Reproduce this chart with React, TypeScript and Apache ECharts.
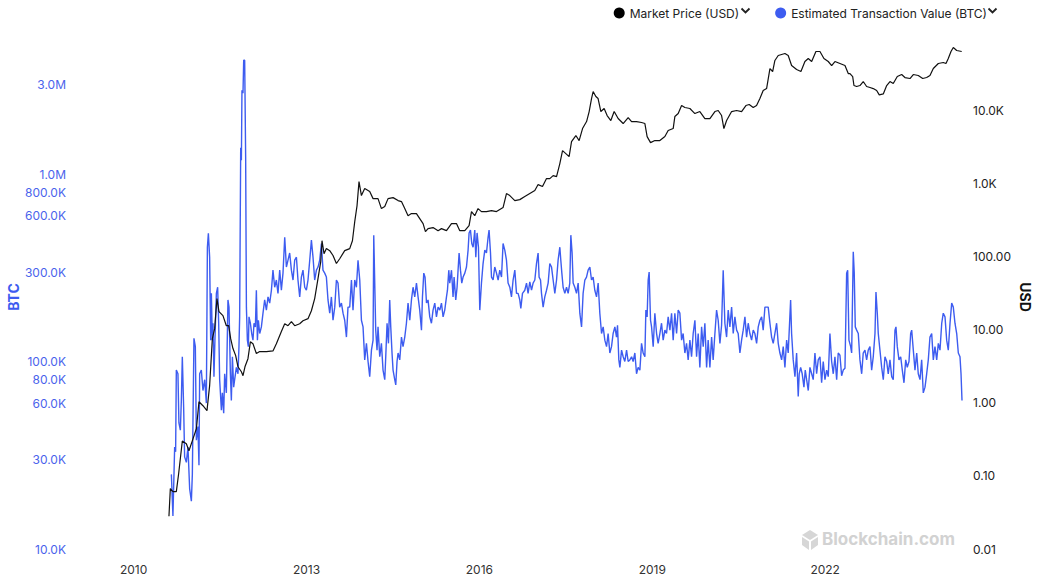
import React, { useEffect, useRef } from "react";
import * as echarts from "echarts";

// Market price (USD), decimal years
const priceYears = [
  2010.613, 2010.637, 2010.682, 2010.741, 2010.781, 2010.845, 2010.915, 2010.96, 2011.03, 2011.089,
  2011.134, 2011.203, 2011.273, 2011.319, 2011.366, 2011.406, 2011.446, 2011.481, 2011.55, 2011.609,
  2011.649, 2011.684, 2011.724, 2011.771, 2011.811, 2011.87, 2011.898, 2011.932, 2011.984, 2012.026,
  2012.071, 2012.13, 2012.188, 2012.304, 2012.418, 2012.477, 2012.564, 2012.622, 2012.679, 2012.738,
  2012.795, 2012.882, 2012.939, 2013.026, 2013.085, 2013.142, 2013.2, 2013.247, 2013.269, 2013.304,
  2013.345, 2013.403, 2013.46, 2013.519, 2013.576, 2013.663, 2013.75, 2013.797, 2013.837, 2013.877,
  2013.911, 2013.953, 2014.01, 2014.097, 2014.155, 2014.241, 2014.3, 2014.358, 2014.415, 2014.502,
  2014.589, 2014.648, 2014.705, 2014.762, 2014.821, 2014.908, 2014.965, 2015.023, 2015.064, 2015.109,
  2015.196, 2015.283, 2015.342, 2015.429, 2015.516, 2015.602, 2015.66, 2015.747, 2015.821, 2015.863,
  2015.92, 2015.977, 2016.036, 2016.123, 2016.21, 2016.297, 2016.411, 2016.47, 2016.528, 2016.615,
  2016.701, 2016.788, 2016.875, 2016.962, 2017.019, 2017.095, 2017.165, 2017.222, 2017.28, 2017.339,
  2017.396, 2017.443, 2017.5, 2017.557, 2017.599, 2017.674, 2017.731, 2017.79, 2017.86, 2017.905,
  2017.946, 2017.974, 2018.021, 2018.06, 2018.108, 2018.165, 2018.217, 2018.281, 2018.339, 2018.408,
  2018.495, 2018.582, 2018.641, 2018.727, 2018.814, 2018.872, 2018.911, 2018.97, 2019.045, 2019.132,
  2019.219, 2019.276, 2019.363, 2019.392, 2019.45, 2019.509, 2019.566, 2019.653, 2019.74, 2019.826,
  2019.913, 2020.0, 2020.087, 2020.144, 2020.203, 2020.243, 2020.29, 2020.377, 2020.463, 2020.55,
  2020.625, 2020.682, 2020.752, 2020.81, 2020.868, 2020.925, 2020.984, 2021.042, 2021.089, 2021.128,
  2021.186, 2021.245, 2021.302, 2021.359, 2021.418, 2021.505, 2021.58, 2021.649, 2021.707, 2021.766,
  2021.84, 2021.91, 2021.979, 2022.054, 2022.113, 2022.17, 2022.257, 2022.344, 2022.401, 2022.431,
  2022.478, 2022.5, 2022.547, 2022.604, 2022.661, 2022.72, 2022.778, 2022.835, 2022.894, 2022.939,
  2023.009, 2023.068, 2023.125, 2023.182, 2023.252, 2023.328, 2023.385, 2023.472, 2023.53, 2023.616,
  2023.693, 2023.762, 2023.819, 2023.877, 2023.964, 2024.05, 2024.097, 2024.137, 2024.184, 2024.224,
  2024.283, 2024.37,
];
const priceUsd = [
  0.028, 0.067, 0.061, 0.061, 0.107, 0.3, 0.275, 0.22, 0.32, 0.44,
  1.03, 0.91, 0.78, 1.71, 7.5, 10.3, 26.5, 17.6, 15.5, 11.3,
  11.3, 7.5, 5.5, 4.4, 3.1, 2.65, 2.34, 3.1, 4.0, 6.8,
  6.4, 4.7, 5.0, 5.0, 5.1, 6.4, 9.4, 12.0, 11.3, 12.8,
  11.3, 12.0, 13.2, 14.1, 18.1, 26.5, 50, 85, 164, 109,
  128, 120, 103, 80, 93, 120, 128, 164, 299, 495,
  1055, 679, 846, 770, 617, 617, 451, 480, 617, 637,
  580, 562, 451, 361, 385, 385, 329, 281, 218, 240,
  248, 225, 240, 225, 281, 281, 225, 225, 264, 410,
  361, 451, 410, 410, 423, 410, 465, 723, 679, 580,
  598, 658, 723, 795, 960, 902, 1159, 1159, 1274, 1236,
  1862, 2800, 2548, 2317, 3720, 4496, 3838, 5600, 6980, 9570,
  14400, 17960, 15340, 14400, 9570, 10520, 8440, 7210, 9570, 7680,
  6560, 7920, 6980, 6980, 6770, 6560, 4350, 3600, 3840, 3840,
  4350, 5260, 5600, 8170, 8980, 11560, 10860, 10520, 8980, 9570,
  7680, 7680, 9570, 9890, 8440, 5600, 7210, 9570, 9890, 9570,
  11560, 11940, 10860, 11560, 14400, 18540, 19720, 37060, 33730, 47750,
  55850, 57670, 59450, 55850, 40740, 35900, 33730, 46230, 50810, 46230,
  63340, 63340, 50810, 46230, 40740, 46230, 43430, 40740, 31660, 31660,
  28780, 21710, 21040, 21710, 24620, 21040, 20370, 19720, 18540, 16180,
  16670, 21710, 24620, 23140, 28780, 30690, 27910, 27060, 30690, 29740,
  27060, 27910, 29740, 37060, 43430, 44770, 43430, 50810, 63340, 71800,
  65340, 63340,
];

// Estimated transaction value, thousands of BTC
const txYears = [
  2010.655, 2010.682, 2010.712, 2010.729, 2010.741, 2010.769, 2010.786, 2010.811, 2010.828, 2010.845,
  2010.868, 2010.885, 2010.915, 2010.943, 2010.972, 2011.002, 2011.019, 2011.047, 2011.071, 2011.089,
  2011.116, 2011.134, 2011.146, 2011.175, 2011.203, 2011.233, 2011.262, 2011.28, 2011.297, 2011.319,
  2011.337, 2011.349, 2011.366, 2011.377, 2011.394, 2011.411, 2011.436, 2011.458, 2011.476, 2011.493,
  2011.523, 2011.54, 2011.563, 2011.58, 2011.609, 2011.637, 2011.655, 2011.679, 2011.696, 2011.714,
  2011.736, 2011.753, 2011.783, 2011.811, 2011.828, 2011.84, 2011.858, 2011.87, 2011.88, 2011.898,
  2011.91, 2011.927, 2011.944, 2011.957, 2011.974, 2011.991, 2012.002, 2012.026, 2012.049, 2012.071,
  2012.089, 2012.113, 2012.13, 2012.148, 2012.165, 2012.188, 2012.217, 2012.245, 2012.274, 2012.304,
  2012.332, 2012.361, 2012.391, 2012.418, 2012.448, 2012.477, 2012.505, 2012.535, 2012.564, 2012.592,
  2012.622, 2012.651, 2012.679, 2012.708, 2012.738, 2012.766, 2012.795, 2012.825, 2012.852, 2012.882,
  2012.911, 2012.939, 2012.969, 2012.998, 2013.026, 2013.056, 2013.085, 2013.113, 2013.142, 2013.172,
  2013.2, 2013.229, 2013.259, 2013.286, 2013.316, 2013.345, 2013.373, 2013.403, 2013.432, 2013.46,
  2013.49, 2013.519, 2013.547, 2013.576, 2013.606, 2013.634, 2013.663, 2013.693, 2013.72, 2013.75,
  2013.78, 2013.807, 2013.837, 2013.866, 2013.894, 2013.924, 2013.953, 2013.981, 2014.01, 2014.04,
  2014.068, 2014.097, 2014.127, 2014.155, 2014.167, 2014.201, 2014.224, 2014.241, 2014.271, 2014.3,
  2014.328, 2014.358, 2014.375, 2014.398, 2014.422, 2014.444, 2014.462, 2014.484, 2014.502, 2014.531,
  2014.549, 2014.571, 2014.589, 2014.618, 2014.648, 2014.675, 2014.705, 2014.734, 2014.762, 2014.792,
  2014.821, 2014.849, 2014.878, 2014.908, 2014.936, 2014.965, 2014.995, 2015.012, 2015.035, 2015.057,
  2015.082, 2015.109, 2015.139, 2015.168, 2015.196, 2015.226, 2015.255, 2015.283, 2015.313, 2015.342,
  2015.37, 2015.399, 2015.429, 2015.446, 2015.469, 2015.486, 2015.516, 2015.543, 2015.561, 2015.59,
  2015.613, 2015.63, 2015.648, 2015.672, 2015.694, 2015.717, 2015.747, 2015.776, 2015.804, 2015.821,
  2015.845, 2015.868, 2015.891, 2015.92, 2015.938, 2015.96, 2015.984, 2016.007, 2016.036, 2016.064,
  2016.094, 2016.123, 2016.151, 2016.168, 2016.193, 2016.21, 2016.238, 2016.267, 2016.297, 2016.325,
  2016.354, 2016.384, 2016.411, 2016.441, 2016.47, 2016.498, 2016.528, 2016.557, 2016.585, 2016.615,
  2016.644, 2016.672, 2016.701, 2016.719, 2016.748, 2016.788, 2016.818, 2016.845, 2016.875, 2016.905,
  2016.932, 2016.962, 2016.991, 2017.019, 2017.036, 2017.061, 2017.078, 2017.106, 2017.135, 2017.165,
  2017.193, 2017.222, 2017.252, 2017.28, 2017.309, 2017.339, 2017.366, 2017.396, 2017.413, 2017.431,
  2017.453, 2017.483, 2017.512, 2017.54, 2017.569, 2017.587, 2017.609, 2017.627, 2017.656, 2017.686,
  2017.714, 2017.743, 2017.773, 2017.8, 2017.83, 2017.859, 2017.887, 2017.917, 2017.946, 2017.974,
  2018.003, 2018.033, 2018.061, 2018.09, 2018.12, 2018.148, 2018.177, 2018.207, 2018.234, 2018.264,
  2018.293, 2018.321, 2018.351, 2018.38, 2018.397, 2018.42, 2018.438, 2018.467, 2018.495, 2018.524,
  2018.554, 2018.582, 2018.611, 2018.641, 2018.668, 2018.698, 2018.727, 2018.755, 2018.785, 2018.814,
  2018.842, 2018.872, 2018.889, 2018.911, 2018.929, 2018.946, 2018.97, 2018.988, 2019.016, 2019.045,
  2019.075, 2019.102, 2019.132, 2019.161, 2019.189, 2019.219, 2019.248, 2019.276, 2019.306, 2019.335,
  2019.363, 2019.392, 2019.422, 2019.45, 2019.479, 2019.509, 2019.536, 2019.566, 2019.595, 2019.623,
  2019.653, 2019.682, 2019.71, 2019.74, 2019.769, 2019.797, 2019.826, 2019.856, 2019.884, 2019.913,
  2019.943, 2019.97, 2020.0, 2020.03, 2020.057, 2020.087, 2020.116, 2020.144, 2020.174, 2020.203,
  2020.231, 2020.26, 2020.29, 2020.318, 2020.347, 2020.377, 2020.405, 2020.434, 2020.464, 2020.491,
  2020.521, 2020.55, 2020.578, 2020.608, 2020.637, 2020.665, 2020.694, 2020.724, 2020.752, 2020.781,
  2020.811, 2020.839, 2020.868, 2020.898, 2020.925, 2020.955, 2020.984, 2021.012, 2021.042, 2021.071,
  2021.099, 2021.128, 2021.158, 2021.186, 2021.215, 2021.245, 2021.273, 2021.302, 2021.332, 2021.359,
  2021.401, 2021.418, 2021.446, 2021.476, 2021.505, 2021.533, 2021.55, 2021.575, 2021.602, 2021.632,
  2021.655, 2021.679, 2021.707, 2021.736, 2021.766, 2021.793, 2021.823, 2021.852, 2021.88, 2021.91,
  2021.939, 2021.967, 2021.997, 2022.026, 2022.054, 2022.083, 2022.113, 2022.141, 2022.17, 2022.2,
  2022.227, 2022.257, 2022.286, 2022.314, 2022.344, 2022.373, 2022.391, 2022.413, 2022.443, 2022.46,
  2022.488, 2022.505, 2022.523, 2022.547, 2022.575, 2022.604, 2022.634, 2022.661, 2022.691, 2022.72,
  2022.748, 2022.778, 2022.807, 2022.835, 2022.865, 2022.882, 2022.905, 2022.922, 2022.951, 2022.981,
  2023.009, 2023.038, 2023.068, 2023.095, 2023.125, 2023.155, 2023.182, 2023.212, 2023.229, 2023.252,
  2023.281, 2023.311, 2023.339, 2023.368, 2023.398, 2023.425, 2023.455, 2023.484, 2023.502, 2023.53,
  2023.559, 2023.589, 2023.616, 2023.646, 2023.675, 2023.703, 2023.733, 2023.762, 2023.79, 2023.819,
  2023.849, 2023.877, 2023.906, 2023.936, 2023.964, 2023.993, 2024.023, 2024.05, 2024.08, 2024.109,
  2024.137, 2024.167, 2024.196, 2024.224, 2024.253, 2024.283, 2024.311, 2024.34, 2024.358, 2024.375,
];
const txValueK = [
  25, 15, 35, 33, 90, 86, 47, 43, 62, 106,
  57, 31, 29, 35, 21, 18, 25, 133, 120, 38,
  45, 28, 86, 90, 70, 80, 60, 407, 483, 360,
  130, 231, 130, 160, 83, 130, 231, 249, 160, 80,
  55, 68, 53, 86, 68, 213, 195, 86, 62, 106,
  73, 80, 93, 86, 120, 173, 1381, 1185, 2798, 2700,
  4044, 4044, 1234, 195, 130, 120, 173, 160, 141, 130,
  160, 153, 240, 130, 166, 141, 153, 181, 213, 188,
  221, 205, 240, 307, 249, 272, 231, 307, 240, 296,
  460, 319, 347, 379, 307, 272, 347, 360, 272, 221,
  282, 307, 249, 240, 272, 347, 444, 360, 272, 307,
  319, 347, 426, 307, 296, 282, 213, 181, 221, 166,
  195, 272, 262, 195, 205, 181, 166, 135, 195, 195,
  272, 188, 272, 249, 347, 272, 166, 153, 102, 125,
  100, 83, 115, 130, 472, 147, 115, 153, 106, 125,
  90, 80, 106, 160, 125, 213, 153, 111, 90, 80,
  75, 100, 111, 102, 135, 120, 135, 160, 205, 166,
  213, 249, 221, 262, 221, 188, 147, 221, 296, 282,
  205, 213, 173, 160, 188, 205, 173, 195, 188, 205,
  173, 188, 221, 240, 307, 262, 307, 221, 282, 213,
  249, 307, 379, 307, 262, 282, 296, 319, 393, 485,
  502, 426, 407, 502, 360, 485, 407, 188, 262, 333,
  393, 379, 460, 502, 379, 282, 272, 319, 296, 272,
  307, 282, 426, 393, 347, 262, 249, 221, 272, 307,
  231, 231, 213, 192, 231, 240, 262, 231, 266, 240,
  262, 272, 333, 379, 282, 272, 231, 195, 221, 240,
  262, 333, 319, 272, 231, 272, 347, 407, 347, 296,
  249, 231, 249, 231, 262, 472, 379, 262, 249, 231,
  262, 181, 153, 231, 272, 282, 307, 319, 272, 282,
  240, 221, 262, 181, 141, 153, 130, 120, 141, 111,
  120, 141, 153, 135, 156, 102, 93, 115, 106, 100,
  115, 100, 102, 106, 100, 111, 86, 93, 90, 125,
  111, 106, 188, 173, 272, 300, 166, 153, 120, 181,
  141, 125, 141, 160, 130, 147, 141, 173, 147, 181,
  130, 181, 141, 188, 181, 130, 141, 111, 125, 102,
  130, 106, 141, 166, 106, 141, 93, 153, 120, 160,
  93, 130, 93, 135, 102, 141, 188, 166, 125, 156,
  307, 160, 135, 188, 153, 195, 141, 173, 147, 141,
  111, 130, 147, 173, 135, 160, 141, 130, 147, 141,
  125, 153, 166, 173, 147, 195, 195, 195, 160, 135,
  125, 141, 160, 125, 111, 102, 120, 93, 130, 111,
  213, 141, 102, 83, 111, 65, 86, 93, 86, 73,
  90, 80, 70, 93, 86, 80, 111, 86, 102, 106,
  77, 100, 80, 90, 83, 141, 100, 86, 106, 80,
  111, 108, 84, 90, 92, 296, 307, 130, 120, 111,
  385, 296, 153, 147, 141, 102, 86, 111, 115, 102,
  115, 120, 90, 106, 141, 235, 181, 141, 115, 93,
  80, 106, 100, 86, 102, 83, 80, 147, 153, 120,
  102, 106, 90, 77, 102, 93, 100, 141, 147, 115,
  90, 111, 86, 80, 102, 68, 73, 86, 102, 135,
  141, 102, 120, 102, 125, 115, 160, 181, 173, 130,
  115, 160, 205, 195, 160, 141, 111, 106, 86, 62,
];

const yearTicks = [2010, 2013, 2016, 2019, 2022];
const btcTicks = [10000, 30000, 60000, 80000, 100000, 300000, 600000, 800000, 1000000, 3000000];
const usdTicks = [0.01, 0.1, 1, 10, 100, 1000, 10000];

const BLUE = "#3d5cf0";
const FONT = "Inter, 'Noto Sans', sans-serif";

function fmtBtc(v: number) {
  if (v >= 1e6) return (v / 1e6).toFixed(1) + "M";
  return (v / 1e3).toFixed(1) + "K";
}
function fmtUsd(v: number) {
  if (v >= 1e3) return (v / 1e3).toFixed(1) + "K";
  return v.toFixed(2);
}

export default function App() {
  const ref = useRef<HTMLDivElement>(null);
  useEffect(() => {
    if (!ref.current) return;
    const chart = echarts.init(ref.current, undefined, { renderer: "svg" });
    const priceData = priceYears.map((y, i) => [y, priceUsd[i]]);
    const txData = txYears.map((y, i) => [y, txValueK[i] * 1000]);
    const chevronStyle = { stroke: "#222", lineWidth: 1.8, fill: "none", lineJoin: "miter" };
    chart.setOption({
      animation: false,
      backgroundColor: "#ffffff",
      textStyle: { fontFamily: FONT },
      grid: { left: 76, right: 73, top: 37, bottom: 31, containLabel: false, outerBoundsMode: "none" },
      legend: {
        data: ["Market Price (USD)", "Estimated Transaction Value (BTC)"],
        top: 1,
        right: 39,
        padding: 0,
        icon: "circle",
        itemWidth: 11,
        itemHeight: 11,
        itemGap: 24,
        formatter: (name: string) => name + "{c| }",
        textStyle: {
          fontFamily: FONT,
          fontSize: 12,
          color: "#222",
          lineHeight: 24,
          rich: {
            c: { width: 12, fontSize: 12, lineHeight: 24 },
          },
        },
      },
      xAxis: {
        type: "value",
        min: 2009,
        max: 2024.427,
        axisLine: { show: false },
        axisTick: { show: false },
        splitLine: { show: false },
        axisLabel: {
          customValues: yearTicks,
          formatter: (v: number) => String(Math.round(v)),
          color: "#333",
          fontSize: 12,
          margin: 14,
          fontFamily: FONT,
        },
      },
      yAxis: [
        {
          type: "log",
          logBase: 10,
          position: "left",
          min: 10000,
          max: 5380000,
          axisLine: { show: false },
          axisTick: { show: false },
          splitLine: { show: false },
          axisLabel: {
            customValues: btcTicks,
            formatter: (v: number) => fmtBtc(v),
            color: "#4a63ec",
            fontSize: 12,
            margin: 10,
            fontFamily: FONT,
          },
        },
        {
          type: "log",
          logBase: 10,
          position: "right",
          min: 0.01,
          max: 100000,
          axisLine: { show: false },
          axisTick: { show: false },
          splitLine: { show: false },
          axisLabel: {
            customValues: usdTicks,
            formatter: (v: number) => fmtUsd(v),
            color: "#222",
            fontSize: 12,
            margin: 8,
            fontFamily: FONT,
          },
        },
      ],
      series: [
        {
          name: "Estimated Transaction Value (BTC)",
          type: "line",
          yAxisIndex: 0,
          data: txData,
          showSymbol: false,
          symbol: "none",
          color: BLUE,
          lineStyle: { color: BLUE, width: 1.4 },
          z: 2,
        },
        {
          name: "Market Price (USD)",
          type: "line",
          yAxisIndex: 1,
          data: priceData,
          showSymbol: false,
          symbol: "none",
          color: "#000000",
          lineStyle: { color: "#111111", width: 1.2 },
          z: 3,
        },
      ],
      graphic: [
        {
          type: "text",
          x: 13,
          y: 297,
          rotation: Math.PI / 2,
          style: {
            text: "BTC",
            fill: BLUE,
            fontWeight: "bold",
            fontSize: 14,
            fontFamily: FONT,
            textAlign: "center",
            textVerticalAlign: "middle",
          },
        },
        {
          type: "text",
          x: 1025,
          y: 297,
          rotation: -Math.PI / 2,
          style: {
            text: "USD",
            fill: "#111",
            fontWeight: "bold",
            fontSize: 14,
            fontFamily: FONT,
            textAlign: "center",
            textVerticalAlign: "middle",
          },
        },
        {
          type: "polyline",
          shape: { points: [[741.5, 8.5], [745.5, 12.5], [749.5, 8.5]] },
          style: chevronStyle,
          silent: true,
        },
        {
          type: "polyline",
          shape: { points: [[988.5, 8.5], [992.5, 12.5], [996.5, 8.5]] },
          style: chevronStyle,
          silent: true,
        },
        {
          type: "group",
          left: 802,
          top: 530,
          children: [
            { type: "polygon", shape: { points: [[8, 0], [16, 5], [8, 10], [0, 5]] }, style: { fill: "#d6d6d6" } },
            { type: "polygon", shape: { points: [[0, 7], [7, 11.5], [7, 20], [0, 15]] }, style: { fill: "#d6d6d6" } },
            { type: "polygon", shape: { points: [[16, 7], [9, 11.5], [9, 20], [16, 15]] }, style: { fill: "#d6d6d6" } },
          ],
        },
        {
          type: "text",
          left: 822,
          top: 530,
          style: { text: "Blockchain.com", fontSize: 17, fontWeight: "bold", fill: "#d2d2d2", fontFamily: FONT },
        },
      ],
    });
    return () => chart.dispose();
  }, []);
  return (
    <div
      ref={ref}
      style={{ position: "fixed", left: 0, top: 0, width: 1038, height: 580, background: "#fff" }}
    />
  );
}
